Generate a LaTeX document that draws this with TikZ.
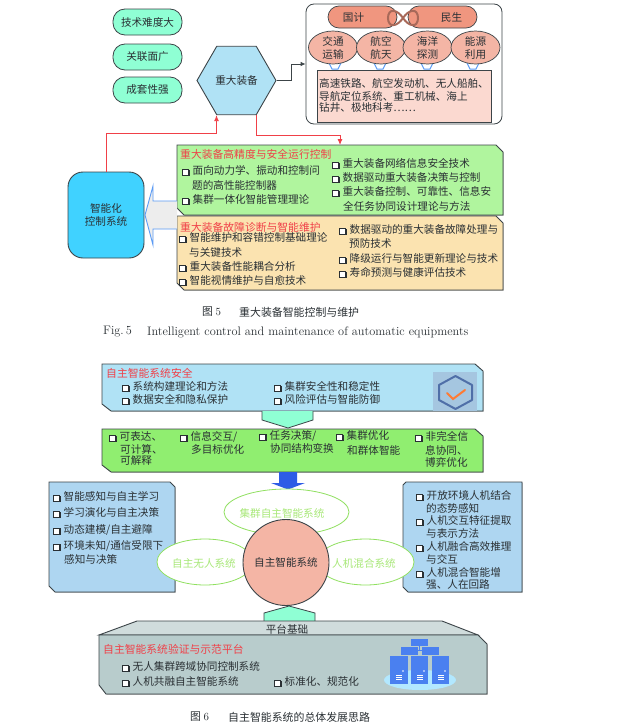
\documentclass[tikz,border=0pt]{standalone}
\usepackage{fontspec}
\usepackage{tikz}
\usetikzlibrary{positioning, calc, shapes.geometric, arrows.meta, shadows}
\newfontfamily\cjk{Noto Sans CJK SC}
\definecolor{EqPill}{HTML}{8FFFD4}
\definecolor{EqSky}{HTML}{B0E2F5}
\definecolor{EqSalmon}{HTML}{F4B5A5}
\definecolor{EqCoral}{HTML}{F0967F}
\definecolor{EqRose}{HTML}{FBD9D0}
\definecolor{EqGreen}{HTML}{B0F59E}
\definecolor{EqLime}{HTML}{90EE70}
\definecolor{EqSand}{HTML}{FBE3B0}
\definecolor{EqCyan}{HTML}{40D2FF}
\definecolor{EqEdge}{HTML}{3C4448}
\definecolor{EqInk}{HTML}{2A3034}
\definecolor{EqRed}{HTML}{F04048}
\definecolor{EqPale}{HTML}{AED6F1}
\definecolor{EqBlue}{HTML}{2E5CE6}
\definecolor{EqOutline}{HTML}{90E060}
\definecolor{EqLeaf}{HTML}{A8E878}
\definecolor{EqPlat}{HTML}{D0DCDC}
\definecolor{EqSlate}{HTML}{B8CCCC}
\definecolor{EqServer}{HTML}{4A80F0}
\definecolor{EqFlow}{HTML}{5B9BF5}
\definecolor{EqBadge}{HTML}{A5C6E0}
\definecolor{EqShield}{HTML}{4F6FA8}
\newcommand{\chk}{\makebox[10.5pt][l]{\raisebox{-0.4pt}{\rlap{\hspace{1pt}\raisebox{-1pt}{\color{EqInk}\rule{6.5pt}{6.5pt}}}\setlength{\fboxsep}{0pt}\setlength{\fboxrule}{0.7pt}\fcolorbox{EqInk}{white}{\rule{0pt}{5.1pt}\rule{5.1pt}{0pt}}}}}
\tikzset{
  label text/.style={font=\cjk\fontsize{10.6}{13}\selectfont, text=EqInk, inner sep=0pt, align=center},
  item text/.style={label text, anchor=west, align=left},
  red title/.style={item text, text=EqRed, font=\cjk\fontsize{10.8}{13}\selectfont},
  pill/.style={label text, rounded corners=12pt, draw=EqEdge, line width=0.8pt, fill=EqPill, minimum width=69pt, minimum height=26pt},
  plan oval/.style={label text, ellipse, draw=EqEdge, line width=0.7pt, fill=EqSalmon, minimum width=49pt, minimum height=33pt},
  snip box/.style={draw=EqEdge, line width=0.9pt, drop shadow={shadow xshift=0.6pt, shadow yshift=-0.6pt, fill=black!60, opacity=0.7}},
  system oval/.style={ellipse, draw=EqOutline, line width=0.8pt, fill=white, inner sep=0pt},
  system text/.style={label text, text=EqLeaf},
  red link/.style={draw=EqRed, line width=0.9pt, -{Latex[length=6pt,width=5pt]}},
  flow mark/.style={draw=EqFlow, line width=1pt, fill=white},
  cap text/.style={font=\cjk\fontsize{10.9}{13}\selectfont, text=EqInk, inner sep=0pt, anchor=west},
  cap latin/.style={font=\fontsize{12.3}{14}\selectfont, text=EqInk, inner sep=0pt, anchor=west},
}
\begin{document}
\begin{tikzpicture}[x=1pt, y=-1pt]
  \useasboundingbox[fill=white] (0,0) rectangle (635,728);
  %% Traits of heavy equipment
  \node[pill] (hard) at (147.5,22) {技术难度大};
  \node[pill] (wide) at (147.5,57) {关联面广};
  \node[pill] (set) at (147.5,90) {成套性强};
  \node[label text, regular polygon, regular polygon sides=6, minimum size=79pt, draw=EqEdge, line width=0.9pt, fill=EqSky] (equip) at (236.5,80.5) {重大装备};
  %% Application panel
  \node[draw=EqEdge, line width=0.8pt, fill=white, rounded corners=8pt, minimum width=196pt, minimum height=120pt, inner sep=0pt] (panel) at (404,64) {};
  \node[label text, rounded corners=11pt, draw=EqEdge, line width=0.7pt, fill=EqCoral, minimum width=69pt, minimum height=22pt] (plan) at (362.5,17) {\hspace*{-18pt}国计};
  \node[label text, rounded corners=11pt, draw=EqEdge, line width=0.7pt, fill=EqCoral, minimum width=69pt, minimum height=22pt] (live) at (442.5,17) {\hspace*{18pt}民生};
  %% Knot between the two pills
  \draw[draw=EqCoral!70!black, line width=2pt] (403,18) .. controls (397,9) and (388,8) .. (388,18)
                      .. controls (388,28) and (397,27) .. (403,18)
                      .. controls (409,9) and (418,8) .. (418,18)
                      .. controls (418,28) and (409,27) .. (403,18);
  %% Small arrows under the ovals
  \draw[flow mark] (329,63) -- (332,69) -- (338,69) -- (341,63);
  \draw[flow mark] (374,63) -- (377,69) -- (383,69) -- (386,63);
  \draw[flow mark] (421,63) -- (424,69) -- (430,69) -- (433,63);
  \draw[flow mark] (467,63) -- (470,69) -- (476,69) -- (479,63);
  \node[plan oval] (traffic) at (333,47.5) {交通\\运输};
  \node[plan oval] (aero) at (381,47.5) {航空\\航天};
  \node[plan oval] (ocean) at (427.5,47.5) {海洋\\探测};
  \node[plan oval] (energy) at (475.5,47.5) {能源\\利用};
  \node[draw=EqEdge, line width=0.8pt, fill=EqRose, minimum width=174pt, minimum height=52pt, inner sep=0pt] (field) at (404,96) {};
  \node[item text] (field1) at (319,83) {高速铁路、航空发动机、无人船舶、};
  \node[item text] (field2) at (319,96) {导航定位系统、重工机械、海上};
  \node[item text] (field3) at (319,108) {钻井、极地科考……};
  %% Control system and the two technology boxes
  \node[label text, rounded corners=15pt, draw=EqEdge, line width=0.9pt, fill=EqCyan, minimum width=76pt, minimum height=86pt] (ctrl) at (106,215) {智能化\\控制系统};
  \draw[snip box, fill=EqGreen] (177,145) -- (496,145) -- (503,152) -- (503,215) -- (184,215) -- (177,208) -- cycle;
  \draw[snip box, fill=EqSand] (177,216) -- (496,216) -- (503,223) -- (503,290) -- (184,290) -- (177,283) -- cycle;
  \coordinate (acctop) at (340,145);
  \draw[-{Latex[length=5pt,width=4.5pt]}, draw=EqEdge, line width=0.8pt] (equip.east) -- ++(15,0) |- (panel.west);
  \draw[red link] (ctrl.north) -- ++(0,-38) -| ($(equip.south)+(-20,0)$);
  \draw[red link] ($(equip.south)+(20,0)$) -- ++(0,20) -| (acctop);
  %% Wide arrow
  \draw[draw=EqFlow, line width=0.9pt, fill=black!7] (177,201) -- (153,201) -- (153,186) -- (145,215) -- (153,245) -- (153,229) -- (177,229);
  \node[red title] (acctitle) at (180,154) {重大装备高精度与安全运行控制};
  \node[item text] (acc1) at (182,171) {\chk 面向动力学、振动和控制问};
  \node[item text] (acc1b) at (192,185) {题的高性能控制器};
  \node[item text] (acc2) at (182,200) {\chk 集群一体化智能管理理论};
  \node[item text] (acc3) at (332,164) {\chk 重大装备网络信息安全技术};
  \node[item text] (acc4) at (332,178) {\chk 数据驱动重大装备决策与控制};
  \node[item text] (acc5) at (332,192) {\chk 重大装备控制、可靠性、信息安};
  \node[item text] (acc5b) at (343,206) {全任务协同设计理论与方法};
  \node[red title] (faulttitle) at (180,227) {重大装备故障诊断与智能维护};
  \node[item text] (fault1) at (179,238) {\chk 智能维护和容错控制基础理论};
  \node[item text] (fault1b) at (189,252) {与关键技术};
  \node[item text] (fault2) at (179,267) {\chk 重大装备性能耦合分析};
  \node[item text] (fault3) at (179,281) {\chk 智能视情维护与自愈技术};
  \node[item text] (fault4) at (339,230) {\chk 数据驱动的重大装备故障处理与};
  \node[item text] (fault4b) at (349,243) {预防技术};
  \node[item text] (fault5) at (339,259) {\chk 降级运行与智能更新理论与技术};
  \node[item text] (fault6) at (339,273) {\chk 寿命预测与健康评估技术};
  %% Caption of the first figure
  \node[cap text] (capfive) at (202,312) {图\ \rmfamily 5};
  \node[cap text] (capfivetext) at (239,312) {重大装备智能控制与维护};
  \node[cap latin] (figfive) at (103,332) {Fig.\,5};
  \node[cap latin] (figfivetext) at (147,332) {Intelligent control and maintenance of automatic equipments};
  %% Safety box with shield
  \draw[snip box, fill=EqSky] (102,364) -- (475,364) -- (483,371) -- (483,411) -- (111,411) -- (102,404) -- cycle;
  \node[red title] (safetitle) at (106,373) {自主智能系统安全};
  \node[item text] (safe1) at (122,387) {\chk 系统构建理论和方法};
  \node[item text] (safe2) at (122,400) {\chk 数据安全和隐私保护};
  \node[item text] (safe3) at (274,387) {\chk 集群安全性和稳定性};
  \node[item text] (safe4) at (274,400) {\chk 风险评估与智能防御};
  \fill[EqBadge] (433,372) rectangle (477,411);
  \draw[draw=EqShield, line width=2pt, line join=round] (455.5,376) -- (472,385) -- (472,400) -- (455.5,409) -- (439,400) -- (439,385) -- cycle;
  \draw[draw=orange!70!red!80, line width=2pt, line cap=round] (447,393) -- (453,399) -- (465,390);
  %% Aqua arrow down
  \draw[draw=EqEdge, line width=0.8pt, fill=EqPill] (262,411) -- (262,420) -- (288,428) -- (313,420) -- (313,411);
  %% Goals box
  \draw[snip box, fill=EqLime] (102,429) -- (475,429) -- (483,436) -- (483,472) -- (111,472) -- (102,465) -- cycle;
  \node[item text] (goal1) at (109,437) {\chk 可表达、};
  \node[item text] (goal1b) at (120,449) {可计算、};
  \node[item text] (goal1c) at (120,460) {可解释};
  \node[item text] (goal2) at (180,437) {\chk 信息交互/};
  \node[item text] (goal2b) at (191,449) {多目标优化};
  \node[item text] (goal3) at (259,436) {\chk 任务决策/};
  \node[item text] (goal3b) at (270,448) {协同结构变换};
  \node[item text] (goal4) at (336,436) {\chk 集群优化};
  \node[item text] (goal4b) at (347,450) {和群体智能};
  \node[item text] (goal5) at (415,437) {\chk 非完全信};
  \node[item text] (goal5b) at (425,450) {息协同、};
  \node[item text] (goal5c) at (425,462) {博弈优化};
  \fill[EqBlue] (279,472) -- (297,472) -- (297,483) -- (305,483) -- (288,489.5) -- (271,483) -- (279,483) -- cycle;
  %% Side boxes
  \draw[snip box, fill=EqPale] (49,482) -- (170,482) -- (175,487) -- (175,592) -- (55,592) -- (49,586) -- cycle;
  \draw[snip box, fill=EqPale] (406,482) -- (522,482) -- (522,592) -- (408,592) -- (403,587) -- (403,485) -- cycle;
  %% Systems
  \node[system oval, minimum width=125pt, minimum height=46pt] (swarm) at (286.5,512) {};
  \node[system oval, minimum width=96pt, minimum height=46pt] (unman) at (205,562) {};
  \node[system oval, minimum width=97pt, minimum height=46pt] (mixed) at (365.5,562) {};
  \node[label text, circle, draw=EqEdge, line width=0.9pt, fill=EqSalmon, minimum size=86pt] (auto) at (286,562.5) {自主智能系统};
  \node[system text] (swarmtext) at (282,513) {集群自主智能系统};
  \node[system text] (unmantext) at (204,563) {自主无人系统};
  \node[system text] (mixedtext) at (364,563) {人机混合系统};
  \node[item text] (sense1) at (53,497) {\chk 智能感知与自主学习};
  \node[item text] (sense2) at (53,513) {\chk 学习演化与自主决策};
  \node[item text] (sense3) at (53,530) {\chk 动态建模/自主避障};
  \node[item text] (sense4) at (53,546) {\chk 环境未知/通信受限下};
  \node[item text] (sense4b) at (64,559) {感知与决策};
  \node[item text] (human1) at (416,496) {\chk 开放环境人机结合};
  \node[item text] (human1b) at (426,508) {的态势感知};
  \node[item text] (human2) at (416,521) {\chk 人机交互特征提取};
  \node[item text] (human2b) at (426,533) {与表示方法};
  \node[item text] (human3) at (416,547) {\chk 人机融合高效推理};
  \node[item text] (human3b) at (426,559) {与交互};
  \node[item text] (human4) at (416,573) {\chk 人机混合智能增};
  \node[item text] (human4b) at (426,585) {强、人在回路};
  %% Platform
  \draw[draw=EqEdge, line width=0.8pt, fill=EqPill] (264,621) -- (264,613) -- (289,606) -- (315,613) -- (315,621);
  \draw[draw=EqEdge, line width=0.9pt, fill=EqPlat] (99,635) -- (137,621) -- (442,621) -- (478,635) -- cycle;
  \node[label text] (basetext) at (287,629) {平台基础};
  \draw[snip box, fill=EqSlate] (99,635) -- (478,635) -- (487,644) -- (487,694) -- (106,694) -- (99,685) -- cycle;
  \node[red title] (verifytitle) at (103,649) {自主智能系统验证与示范平台};
  \node[item text] (verify1) at (122,667) {\chk 无人集群跨域协同控制系统};
  \node[item text] (verify2) at (122,682) {\chk 人机共融自主智能系统};
  \node[item text] (verify3) at (274,682) {\chk 标准化、规范化};
  %% Server icon
  \fill[blue!30!cyan!30] (420,680) ellipse ({36} and {10});
  \draw[EqServer, line width=0.8pt] (419.5,646) -- (419.5,650) (409,650) -- (431,650);
  \fill[EqServer] (411,639) rectangle (428,646);
  \fill[EqServer] (401,647) rectangle (418,655);
  \fill[EqServer] (422,647) rectangle (439,655);
  \fill[EqServer] (390,656) rectangle (408,684);
  \fill[EqServer] (411,656) rectangle (428,684);
  \fill[EqServer] (432,656) rectangle (449,684);
  \draw[white, line width=0.5pt] (396,675) -- (402,675) (396,677) -- (402,677) (396,679) -- (402,679);
  \draw[white, line width=0.5pt] (417,675) -- (423,675) (417,677) -- (423,677) (417,679) -- (423,679);
  \draw[white, line width=0.5pt] (438,675) -- (444,675) (438,677) -- (444,677) (438,679) -- (444,679);
  \fill[white] (403,671) circle (0.8) (424,671) circle (0.8) (445,671) circle (0.8);
  %% Caption of the second figure
  \node[cap text] (capsix) at (190,717) {图\ \rmfamily 6};
  \node[cap text] (capsixtext) at (228,717) {自主智能系统的总体发展思路};
\end{tikzpicture}
\end{document}
